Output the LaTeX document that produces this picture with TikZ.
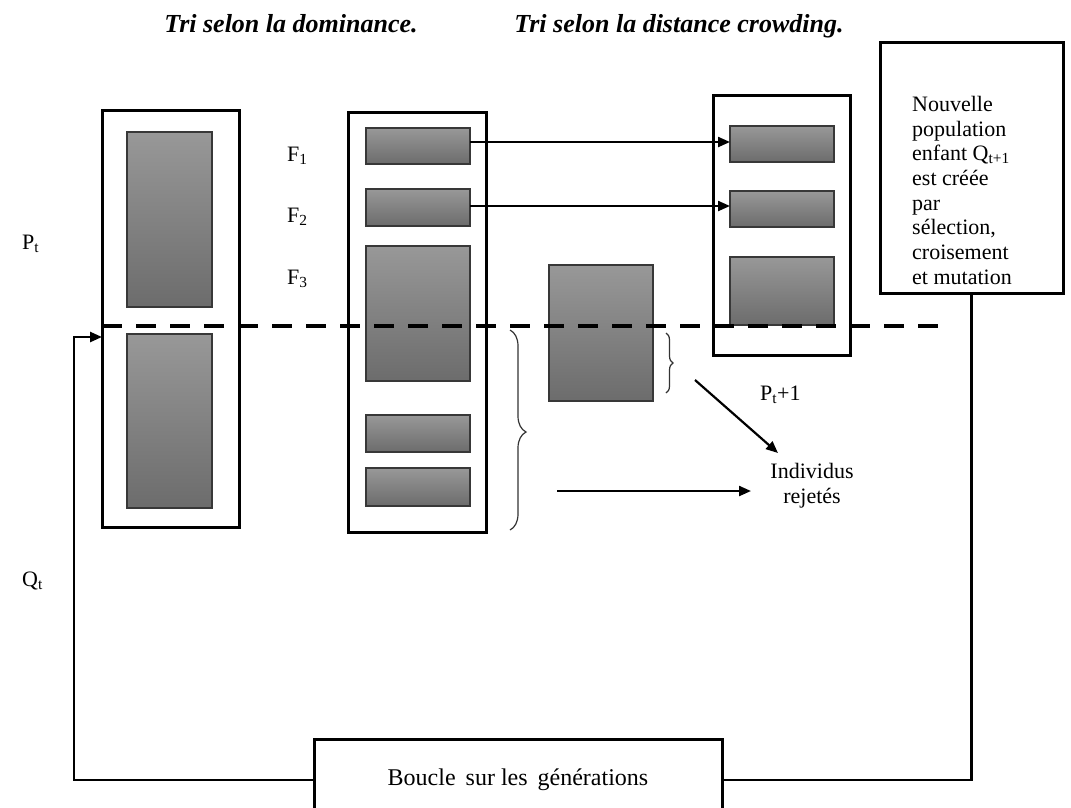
\documentclass[tikz,border=0pt]{standalone}
\usepackage{fontspec}
\setmainfont{Liberation Serif}
\usetikzlibrary{arrows.meta,decorations.pathreplacing,calc}
\begin{document}
\begin{tikzpicture}[x=1pt,y=-1pt,
  blk/.style={draw=black!78, line width=1.4, top color={rgb,255:red,152;green,152;blue,152}, bottom color={rgb,255:red,108;green,108;blue,108}, inner sep=0, outer sep=0, anchor=north west},
  outer/.style={draw=black, line width=3, fill=white, inner sep=0, outer sep=0, anchor=north west},
  arr/.style={-{Triangle[length=12pt,width=10pt]}, line width=2.2},
  lbl/.style={font=\fontsize{22}{24.7}\selectfont, inner sep=0},
  ttl/.style={font=\fontsize{26}{29}\selectfont\bfseries\itshape, inner sep=0, anchor=base},
  brc/.style={decorate, line width=1.2, draw=black!80},
  dsh/.style={line width=4.5, dash pattern=on 20pt off 14pt}
]
\useasboundingbox (0,0) rectangle (1071,807);
\clip (0,0) rectangle (1071,807);

% titles
\node[ttl] (t1) at (291,32) {Tri selon la dominance.};
\node[ttl] (t2) at (679,32) {Tri selon la distance crowding.};

% box 1 : Pt / Qt
\node[outer, minimum width=137, minimum height=417] (box1) at (102,110) {};
\node[blk, minimum width=85, minimum height=175] (p1) at (127,132) {};
\node[blk, minimum width=85, minimum height=174] (q1) at (127,334) {};

% box 2 : fronts
\node[outer, minimum width=138, minimum height=420] (box2) at (348,112) {};
\node[blk, minimum width=104, minimum height=36] (f1) at (366,128) {};
\node[blk, minimum width=104, minimum height=37] (f2) at (366,189) {};
\node[blk, minimum width=104, minimum height=135] (f3) at (366,246) {};
\node[blk, minimum width=104, minimum height=37] (f4) at (366,415) {};
\node[blk, minimum width=104, minimum height=38] (f5) at (366,468) {};

% separated rectangle
\node[blk, minimum width=104, minimum height=136] (mid) at (549,265) {};

% box 3 : Pt+1
\node[outer, minimum width=137, minimum height=260] (box3) at (713,95) {};
\node[blk, minimum width=104, minimum height=36] (r1) at (730,126) {};
\node[blk, minimum width=104, minimum height=36] (r2) at (730,191) {};
\node[blk, minimum width=104, minimum height=68] (r3) at (730,257) {};

% Nouvelle population box
\node[outer, minimum width=183, minimum height=251] (nouv) at (880,42) {};
\node[lbl, anchor=north west, align=left] (ntext) at (912,96)
  {Nouvelle\\population\\enfant Q\textsubscript{t+1}\\est créée\\par\\sélection,\\croisement\\et mutation};

% Boucle box
\node[outer, minimum width=408, minimum height=82, font=\fontsize{24}{27}\selectfont] (boucle) at (314,739) {Boucle\,\ sur les\,\ générations};

% labels
\node[lbl, anchor=base west] (pt) at (22,249) {P\textsubscript{t}};
\node[lbl, anchor=base west] (qt) at (22,586) {Q\textsubscript{t}};
\node[lbl, anchor=base west] (lf1) at (287,161) {F\textsubscript{1}};
\node[lbl, anchor=base west] (lf2) at (287,222) {F\textsubscript{2}};
\node[lbl, anchor=base west] (lf3) at (287,284) {F\textsubscript{3}};
\node[lbl, anchor=base west] (pt1) at (760,400) {P\textsubscript{t}+1};
\node[lbl, anchor=north, align=center] (rej) at (812,463) {Individus\\rejetés};

% dashed separation line
\coordinate (dashL) at (102,326);
\coordinate (dashR) at (950,326);
\draw[dsh] (dashL) -- (dashR);

% arrows fronts -> Pt+1
\draw[arr] (f1.east |- 0,142) -- (r1.west |- 0,142);
\draw[arr] (f2.east |- 0,206) -- (r2.west |- 0,206);

% braces
\draw[brc, decoration={brace, amplitude=16pt, aspect=0.51}] (510,330) -- (510,530);
\draw[brc, decoration={brace, amplitude=7pt}] (666,333) -- (666,393);

% arrows to rejected
\coordinate (dA) at (695,380);
\coordinate (dB) at (778,453);
\coordinate (hA) at (557,491);
\coordinate (hB) at (751,491);
\draw[arr] (dA) -- (dB);
\draw[arr] (hA) -- (hB);

% loop
\coordinate (loopL) at (74,337);
\draw[arr, line width=2.5] (boucle.west) -| (loopL) -- (loopL -| box1.west);
\draw[line width=2.5] (boucle.east) -| (nouv.south);
\end{tikzpicture}
\end{document}
